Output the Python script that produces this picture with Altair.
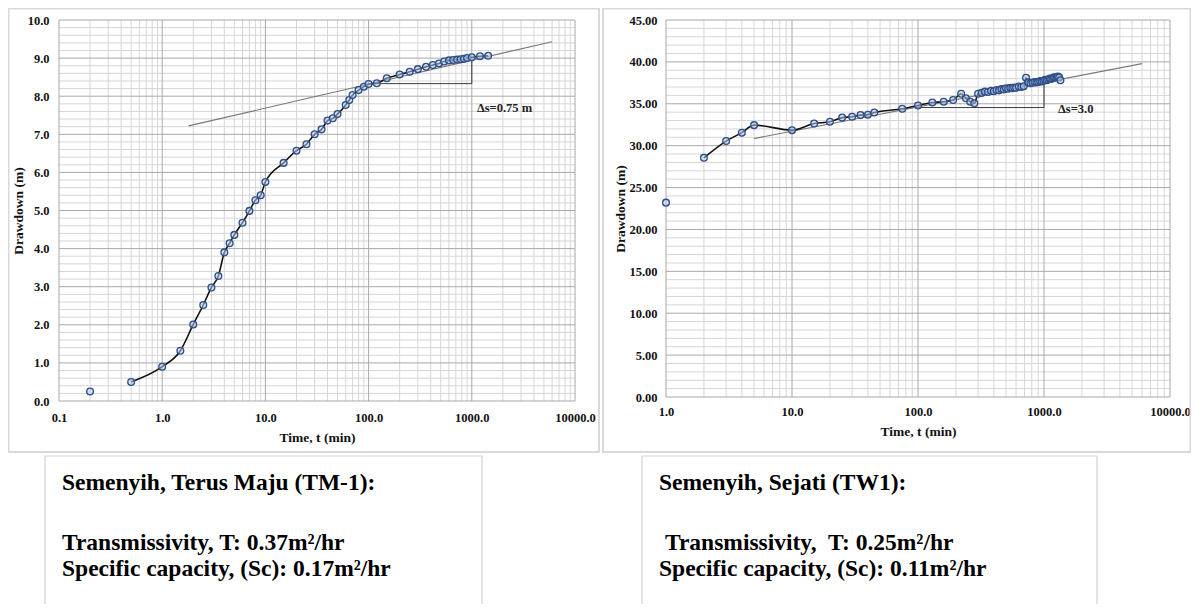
import altair as alt
import pandas as pd

SERIF = "Liberation Serif"

# ---------------- Semenyih, Terus Maju (TM-1) ----------------
tm_time = [0.2, 0.5, 1, 1.5, 2, 2.5, 3, 3.5, 4, 4.5, 5, 6, 7, 8, 9, 10, 15, 20, 25,
           30, 35, 40, 45, 50, 60, 65, 70, 80, 90, 100, 120, 150, 200, 250, 300,
           360, 420, 480, 540, 600, 660, 720, 780, 840, 900, 1000, 1200, 1440]
tm_drawdown = [0.25, 0.5, 0.9, 1.32, 2.01, 2.52, 2.98, 3.28, 3.9, 4.14, 4.36, 4.68,
               4.99, 5.27, 5.4, 5.75, 6.25, 6.57, 6.74, 7.0, 7.13, 7.36, 7.42, 7.53,
               7.77, 7.9, 8.03, 8.16, 8.25, 8.32, 8.34, 8.47, 8.57, 8.64, 8.71, 8.77,
               8.82, 8.86, 8.91, 8.94, 8.95, 8.96, 8.97, 8.98, 9.0, 9.02, 9.05, 9.06]
tm_fit_time = [1.8, 6000]
tm_fit_drawdown = [7.22, 9.43]
tm_tri_time = [105, 1000, 1000]
tm_tri_drawdown = [8.33, 8.33, 8.95]
tm_note = ["Δs=0.75 m"]
tm_note_time = [1120]
tm_note_drawdown = [7.7]
tm_x_ticks = [0.1, 1, 10, 100, 1000, 10000]
tm_y_ticks = [0, 1, 2, 3, 4, 5, 6, 7, 8, 9, 10]

# ---------------- Semenyih, Sejati (TW1) ----------------
tw_time = [1, 2, 3, 4, 5, 10, 15, 20, 25, 30, 35, 40, 45, 75, 100, 130, 160, 190,
           220, 240, 260, 280, 300, 320, 340, 360, 380, 400, 420, 440, 460, 480,
           500, 520, 540, 560, 580, 600, 630, 660, 690, 720, 750, 780, 810, 840,
           870, 900, 930, 960, 990, 1020, 1050, 1080, 1110, 1140, 1170, 1200, 1230,
           1260, 1290, 1320, 1350]
tw_drawdown = [23.2, 28.55, 30.55, 31.55, 32.45, 31.85, 32.65, 32.85, 33.35, 33.45,
               33.65, 33.7, 33.95, 34.4, 34.8, 35.15, 35.25, 35.45, 36.2, 35.65,
               35.25, 35.05, 36.2, 36.3, 36.45, 36.4, 36.55, 36.5, 36.65, 36.6, 36.75,
               36.7, 36.85, 36.8, 36.9, 36.85, 36.95, 36.9, 37.05, 37.0, 37.1, 38.1,
               37.55, 37.45, 37.5, 37.6, 37.55, 37.6, 37.7, 37.65, 37.75, 37.85, 37.8,
               37.9, 38.0, 37.95, 38.05, 38.15, 38.1, 38.2, 38.25, 38.15, 37.8]
tw_fit_time = [5, 6000]
tw_fit_drawdown = [30.85, 39.8]
tw_tri_time = [95, 1000, 1000]
tw_tri_drawdown = [34.55, 34.55, 37.55]
tw_note = ["Δs=3.0"]
tw_note_time = [1290]
tw_note_drawdown = [34.35]
tw_x_ticks = [1, 10, 100, 1000, 10000]
tw_y_ticks = [0, 5, 10, 15, 20, 25, 30, 35, 40, 45]

tm_box_lines = ["Semenyih, Terus Maju (TM-1):",
                "Transmissivity, T: 0.37m²/hr",
                "Specific capacity, (Sc): 0.17m²/hr"]
tw_box_lines = ["Semenyih, Sejati (TW1):",
                "Transmissivity,\u00a0 T: 0.25m²/hr",
                "Specific capacity, (Sc): 0.11m²/hr"]

# ---------------- layout / style ----------------
W, H = 1183, 596
GRID_MINOR = "#d6d6d6"
GRID_MAJOR = "#a8a8a8"
FRAME = "#d9d9d9"
TXT = "#111111"
DUMMY = pd.DataFrame({"a": [0]})


def log_minor(lo_exp, hi_exp):
    vals = [m * 10 ** k for k in range(lo_exp, hi_exp) for m in range(2, 10)]
    return vals


def panel(t, s, fit_t, fit_s, tri_t, tri_s, note, note_t, note_s,
          x_dom, y_dom, x_rng, y_rng, x_major, x_minor, y_major, y_minor,
          y_fmt, x_lab_pad, y_lab_pad, y_title_pad):
    def xsc():
        return alt.Scale(type="log", domain=x_dom, range=x_rng, nice=False)

    def ysc():
        return alt.Scale(type="linear", domain=y_dom, range=y_rng, nice=False, zero=False)

    layers = []
    # vertical grid
    layers.append(alt.Chart(pd.DataFrame({"t": x_minor})).mark_rule(
        color=GRID_MINOR, strokeWidth=1).encode(
        x=alt.X("t:Q", scale=xsc(), axis=None),
        y=alt.YDatum(y_dom[0], scale=ysc(), axis=None, type="quantitative"),
        y2=alt.Y2Datum(y_dom[1])))
    # horizontal grid
    layers.append(alt.Chart(pd.DataFrame({"s": y_minor})).mark_rule(
        color=GRID_MINOR, strokeWidth=1).encode(
        y=alt.Y("s:Q", scale=ysc(), axis=None),
        x=alt.XDatum(x_dom[0], scale=xsc(), axis=None, type="quantitative"),
        x2=alt.X2Datum(x_dom[1])))
    # major vertical grid + x axis
    layers.append(alt.Chart(pd.DataFrame({"t": x_major})).mark_rule(
        color=GRID_MAJOR, strokeWidth=1).encode(
        x=alt.X("t:Q", scale=xsc(), axis=alt.Axis(
            orient="bottom", offset=-(H - y_rng[0]), values=x_major, format=".1f",
            title="Time, t (min)", grid=False, ticks=False, domain=False,
            labelFont=SERIF, labelFontSize=12.5, labelFontWeight="bold",
            labelColor=TXT, labelPadding=x_lab_pad, labelFlush=False,
            labelOverlap=False, titleFont=SERIF, titleFontSize=13.5,
            titleFontWeight="bold", titleColor=TXT, titlePadding=7)),
        y=alt.YDatum(y_dom[0], scale=ysc(), axis=None, type="quantitative"),
        y2=alt.Y2Datum(y_dom[1])))
    # major horizontal grid + y axis
    layers.append(alt.Chart(pd.DataFrame({"s": y_major})).mark_rule(
        color=GRID_MAJOR, strokeWidth=1).encode(
        y=alt.Y("s:Q", scale=ysc(), axis=alt.Axis(
            orient="left", offset=-x_rng[0], values=y_major, format=y_fmt,
            title="Drawdown (m)", grid=False, ticks=False, domain=False,
            labelFont=SERIF, labelFontSize=12.5, labelFontWeight="bold",
            labelColor=TXT, labelPadding=y_lab_pad, labelFlush=False,
            labelOverlap=False, titleFont=SERIF, titleFontSize=13.5,
            titleFontWeight="bold", titleColor=TXT, titlePadding=y_title_pad)),
        x=alt.XDatum(x_dom[0], scale=xsc(), axis=None, type="quantitative"),
        x2=alt.X2Datum(x_dom[1])))
    # straight-line fit
    layers.append(alt.Chart(pd.DataFrame({"t": fit_t, "s": fit_s})).mark_line(
        color="#7a7a7a", strokeWidth=1.2).encode(
        x=alt.X("t:Q", scale=xsc(), axis=None),
        y=alt.Y("s:Q", scale=ysc(), axis=None)))
    # slope triangle
    layers.append(alt.Chart(pd.DataFrame({"t": tri_t, "s": tri_s, "i": [0, 1, 2]})).mark_line(
        color="#3a3a3a", strokeWidth=1).encode(
        x=alt.X("t:Q", scale=xsc(), axis=None),
        y=alt.Y("s:Q", scale=ysc(), axis=None),
        order=alt.Order("i:Q")))
    # smoothed curve (first reading not joined)
    layers.append(alt.Chart(pd.DataFrame({"t": t[1:], "s": s[1:]})).mark_line(
        color="#111111", strokeWidth=1.6, interpolate="monotone").encode(
        x=alt.X("t:Q", scale=xsc(), axis=None),
        y=alt.Y("s:Q", scale=ysc(), axis=None)))
    # readings
    layers.append(alt.Chart(pd.DataFrame({"t": t, "s": s})).mark_circle(
        size=46, fill="#b7c8e2", fillOpacity=0.55, stroke="#2e4f8a",
        strokeWidth=1.3, opacity=1).encode(
        x=alt.X("t:Q", scale=xsc(), axis=None),
        y=alt.Y("s:Q", scale=ysc(), axis=None)))
    # annotation
    layers.append(alt.Chart(pd.DataFrame({"t": note_t, "s": note_s, "label": note})).mark_text(
        align="left", baseline="middle", font=SERIF, fontSize=12.5,
        fontWeight="bold", color="#222222").encode(
        x=alt.X("t:Q", scale=xsc(), axis=None),
        y=alt.Y("s:Q", scale=ysc(), axis=None),
        text="label:N"))
    return layers


def frame(x0, x1, y0, y1, color, width):
    return alt.Chart(DUMMY).mark_rect(fillOpacity=0, stroke=color, strokeWidth=width).encode(
        x=alt.value(x0), x2=alt.value(x1), y=alt.value(y0), y2=alt.value(y1))


def line_text(x, y, txt):
    return alt.Chart(DUMMY).mark_text(
        align="left", baseline="alphabetic", font=SERIF, fontSize=23.5,
        fontWeight="bold", color="#000000").encode(
        x=alt.value(x), y=alt.value(y), text=alt.value(txt))


layers = []
layers.append(frame(0.5, 591, 0.5, 444, FRAME, 2))
layers.append(frame(595, 1182.5, 0.5, 444, FRAME, 2))
layers.append(frame(37, 474, 448, 640, "#d3d3d3", 1.2))
layers.append(frame(634, 1089, 448, 640, "#d3d3d3", 1.2))

layers += panel(tm_time, tm_drawdown, tm_fit_time, tm_fit_drawdown,
                tm_tri_time, tm_tri_drawdown, tm_note, tm_note_time, tm_note_drawdown,
                [0.1, 10000], [0, 10], [51, 567], [393, 12],
                tm_x_ticks, log_minor(-1, 4), tm_y_ticks,
                [round(i * 0.2, 1) for i in range(51) if i % 5],
                ".1f", 10, 10, 2)
layers += panel(tw_time, tw_drawdown, tw_fit_time, tw_fit_drawdown,
                tw_tri_time, tw_tri_drawdown, tw_note, tw_note_time, tw_note_drawdown,
                [1, 10000], [0, 45], [658, 1162], [389, 12],
                tw_x_ticks, log_minor(0, 4), tw_y_ticks,
                [i for i in range(46) if i % 5],
                ".2f", 8, 9, 1)

layers.append(line_text(54, 482, tm_box_lines[0]))
layers.append(line_text(54, 542, tm_box_lines[1]))
layers.append(line_text(54, 568, tm_box_lines[2]))
layers.append(line_text(651, 482, tw_box_lines[0]))
layers.append(line_text(657, 542, tw_box_lines[1]))
layers.append(line_text(651, 568, tw_box_lines[2]))

chart = alt.layer(*layers).resolve_scale(
    x="independent", y="independent"
).properties(
    width=W, height=H, autosize=alt.AutoSizeParams(type="none"), padding=0,
    background="white"
).configure_view(stroke=None)

chart.save("out.html", embed_options={"renderer": "svg", "actions": False})
